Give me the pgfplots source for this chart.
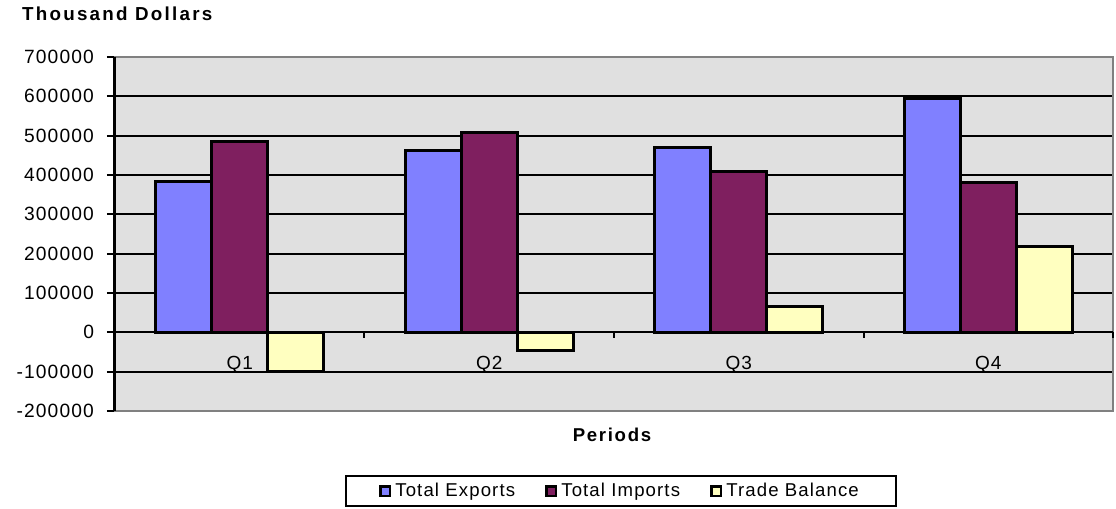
\documentclass[border=0pt]{standalone}
\usepackage{fontspec}
\setmainfont{Liberation Sans}[LetterSpace=6]
\usepackage{pgfplots}
\pgfplotsset{compat=1.18}
\definecolor{cexp}{HTML}{8080FF}
\definecolor{cimp}{HTML}{7F1F5F}
\definecolor{cbal}{HTML}{FFFFC0}
\definecolor{cbg}{HTML}{E0E0E0}
\definecolor{cborder}{HTML}{808080}
\begin{document}
\begin{tikzpicture}
\useasboundingbox (-57.5pt,-49pt) rectangle (500.5pt,205.5pt);
\begin{axis}[
  at={(0,0)}, anchor=south west,
  scale only axis, width=499pt, height=177pt,
  xmin=-0.5, xmax=3.5, ymin=-200000, ymax=700000,
  ytick={-200000,-100000,0,100000,200000,300000,400000,500000,600000,700000},
  xtick=\empty, ytick pos=left,
  scaled y ticks=false,
  /pgf/number format/.cd, fixed, 1000 sep={}, assume math mode=true,
  /pgfplots/.cd,
  yticklabel style={font=\fontsize{9.6}{11}\selectfont, xshift=-3pt},
  ytick style={black, line width=1pt},
  tick align=outside, major tick length=4pt,
  ymajorgrids, major grid style={black, line width=1pt},
  axis background/.style={fill=cbg},
  axis line style={cborder, line width=1pt},
  ybar=0pt, bar width=0.2245,
  every axis plot/.append style={draw=black, line width=1.5pt},
  clip=false,
  legend columns=3,
  legend style={at={(rel axis cs:0.507,0)}, anchor=center, yshift=-40pt,
    draw=black, line width=1pt, font=\fontsize{9.3}{11}\selectfont,
    inner xsep=16.5pt, inner ysep=1.5pt,
    /tikz/every even column/.append style={column sep=13pt}},
  legend image code/.code={\draw[#1,draw=black,line width=1.3pt] (0pt,-2.4pt) rectangle (4.8pt,2.4pt);},
]
\addplot[fill=cexp] coordinates {(0,383000) (1,463000) (2,469000) (3,595000)};
\addplot[fill=cimp] coordinates {(0,485000) (1,509000) (2,408000) (3,381000)};
\addplot[fill=cbal] coordinates {(0,-99000) (1,-46000) (2,66000) (3,217000)};
\legend{Total Exports, Total Imports, Trade Balance}
\draw[cborder, line width=1pt] (rel axis cs:0,1) -- (rel axis cs:1,1) -- (rel axis cs:1,0) -- (rel axis cs:0,0);
\draw[black, line width=1.5pt] (rel axis cs:0,0) -- (rel axis cs:0,1);
\draw[black, line width=1pt] (axis cs:-0.5,0) -- (axis cs:3.5,0);
\draw[black, line width=1pt] (axis cs:0.5,0) -- ([yshift=-3pt]axis cs:0.5,0);
\draw[black, line width=1pt] (axis cs:1.5,0) -- ([yshift=-3pt]axis cs:1.5,0);
\draw[black, line width=1pt] (axis cs:2.5,0) -- ([yshift=-3pt]axis cs:2.5,0);
\draw[black, line width=1pt] (axis cs:3.5,0) -- ([yshift=-3pt]axis cs:3.5,0);
\node[font=\fontsize{9.5}{11}\selectfont] at (axis cs:0,0) [yshift=-16pt] {Q1};
\node[font=\fontsize{9.5}{11}\selectfont] at (axis cs:1,0) [yshift=-16pt] {Q2};
\node[font=\fontsize{9.5}{11}\selectfont] at (axis cs:2,0) [yshift=-16pt] {Q3};
\node[font=\fontsize{9.5}{11}\selectfont] at (axis cs:3,0) [yshift=-16pt] {Q4};
\end{axis}
\node[anchor=west, font=\fontsize{9.4}{11}\selectfont\bfseries\addfontfeature{LetterSpace=12}] at (-50pt,198.5pt) {Thousand Dollars};
\node[font=\fontsize{9.3}{11}\selectfont\bfseries\addfontfeature{LetterSpace=9}] at (248.5pt,-12pt) {Periods};
\end{tikzpicture}
\end{document}
